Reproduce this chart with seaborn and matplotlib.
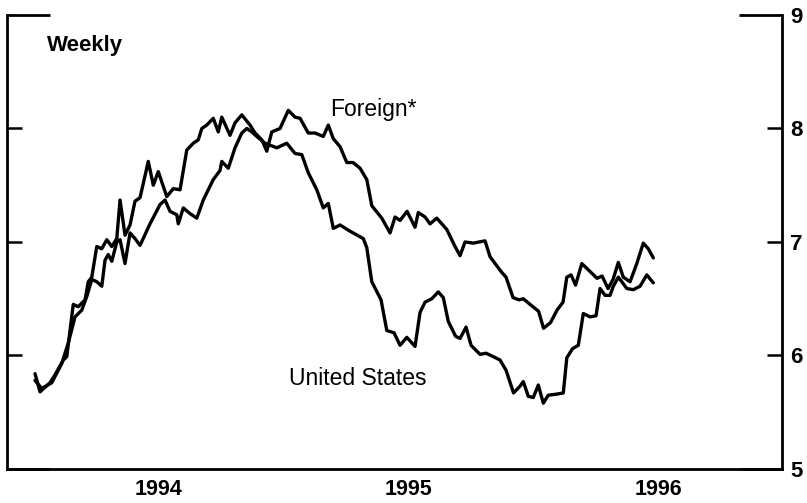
import matplotlib.pyplot as plt
import seaborn as sns
import pandas as pd

# weekly long-term rates (time in decimal years, percent)
foreign_t = [1994.008, 1994.028, 1994.068, 1994.088, 1994.121, 1994.135, 1994.161, 1994.181,
             1994.208, 1994.221, 1994.235, 1994.255, 1994.275, 1994.295, 1994.315, 1994.335,
             1994.348, 1994.368, 1994.388, 1994.408, 1994.428, 1994.461, 1994.481, 1994.501,
             1994.535, 1994.561, 1994.588, 1994.615, 1994.641, 1994.661, 1994.675, 1994.695,
             1994.721, 1994.741, 1994.755, 1994.788, 1994.808, 1994.835, 1994.868, 1994.888,
             1994.915, 1994.935, 1994.955, 1994.988, 1995.021, 1995.048, 1995.068, 1995.101,
             1995.128, 1995.161, 1995.181, 1995.201, 1995.228, 1995.255, 1995.280, 1995.308,
             1995.335, 1995.355, 1995.395, 1995.428, 1995.448, 1995.468, 1995.496, 1995.528,
             1995.541, 1995.568, 1995.588, 1995.615, 1995.655, 1995.688, 1995.708, 1995.728,
             1995.761, 1995.784, 1995.808, 1995.828, 1995.872, 1995.892, 1995.920, 1995.944,
             1995.961, 1995.988, 1996.022, 1996.042, 1996.070, 1996.096, 1996.120, 1996.135,
             1996.152, 1996.170, 1996.195, 1996.228, 1996.256, 1996.276, 1996.300, 1996.320,
             1996.341, 1996.361, 1996.388, 1996.415, 1996.441, 1996.461, 1996.481]
foreign_v = [5.84, 5.68, 5.76, 5.83, 5.96, 5.99, 6.45, 6.43,
             6.49, 6.65, 6.69, 6.96, 6.94, 7.02, 6.96, 7.03,
             7.37, 7.06, 7.15, 7.36, 7.39, 7.71, 7.50, 7.62,
             7.40, 7.47, 7.46, 7.81, 7.87, 7.90, 8.00, 8.03,
             8.09, 7.97, 8.10, 7.94, 8.05, 8.12, 8.03, 7.96,
             7.90, 7.80, 7.97, 8.00, 8.16, 8.10, 8.09, 7.96,
             7.96, 7.93, 8.03, 7.91, 7.84, 7.70, 7.70, 7.65,
             7.55, 7.32, 7.21, 7.08, 7.22, 7.19, 7.27, 7.13,
             7.26, 7.22, 7.16, 7.21, 7.11, 6.96, 6.88, 7.00,
             6.99, 7.00, 7.01, 6.87, 6.74, 6.69, 6.51, 6.49,
             6.50, 6.45, 6.39, 6.24, 6.29, 6.40, 6.47, 6.69,
             6.71, 6.62, 6.81, 6.74, 6.68, 6.70, 6.59, 6.67,
             6.82, 6.69, 6.65, 6.81, 6.99, 6.94, 6.86]

us_t = [1994.008, 1994.035, 1994.075, 1994.115, 1994.141, 1994.168, 1994.195, 1994.215,
        1994.235, 1994.255, 1994.275, 1994.288, 1994.301, 1994.315, 1994.335, 1994.348,
        1994.368, 1994.388, 1994.408, 1994.428, 1994.468, 1994.508, 1994.528, 1994.548,
        1994.575, 1994.581, 1994.601, 1994.628, 1994.655, 1994.681, 1994.721, 1994.748,
        1994.755, 1994.781, 1994.808, 1994.835, 1994.855, 1994.875, 1994.895, 1994.928,
        1994.975, 1995.015, 1995.048, 1995.075, 1995.101, 1995.135, 1995.161, 1995.181,
        1995.201, 1995.228, 1995.264, 1995.321, 1995.335, 1995.355, 1995.392, 1995.415,
        1995.444, 1995.468, 1995.495, 1995.528, 1995.548, 1995.568, 1995.595, 1995.621,
        1995.641, 1995.661, 1995.690, 1995.708, 1995.732, 1995.752, 1995.788, 1995.812,
        1995.841, 1995.868, 1995.892, 1995.922, 1995.948, 1995.961, 1995.981, 1996.001,
        1996.021, 1996.041, 1996.061, 1996.095, 1996.121, 1996.135, 1996.158, 1996.181,
        1996.201, 1996.228, 1996.252, 1996.268, 1996.288, 1996.308, 1996.321, 1996.341,
        1996.355, 1996.375, 1996.401, 1996.428, 1996.455, 1996.481]
us_v = [5.78, 5.71, 5.76, 5.93, 6.11, 6.34, 6.40, 6.52,
        6.67, 6.65, 6.61, 6.84, 6.89, 6.83, 7.00, 7.02,
        6.81, 7.08, 7.03, 6.97, 7.16, 7.33, 7.37, 7.27,
        7.24, 7.16, 7.30, 7.25, 7.21, 7.37, 7.55, 7.63,
        7.71, 7.65, 7.83, 7.96, 8.00, 7.97, 7.93, 7.87,
        7.83, 7.87, 7.78, 7.77, 7.61, 7.46, 7.30, 7.34,
        7.12, 7.15, 7.10, 7.03, 6.95, 6.65, 6.49, 6.22,
        6.20, 6.09, 6.16, 6.08, 6.38, 6.47, 6.50, 6.56,
        6.51, 6.30, 6.17, 6.15, 6.25, 6.09, 6.01, 6.02,
        5.99, 5.96, 5.87, 5.67, 5.73, 5.77, 5.64, 5.63,
        5.74, 5.58, 5.65, 5.66, 5.67, 5.98, 6.06, 6.09,
        6.37, 6.34, 6.35, 6.59, 6.53, 6.53, 6.61, 6.69,
        6.65, 6.59, 6.58, 6.61, 6.71, 6.64]

year_ticks = [1994, 1995, 1996]
year_labels = ['1994', '1995', '1996']

sns.set_style('white')
plt.rcParams['font.family'] = ['Liberation Sans', 'DejaVu Sans']
plt.rcParams['text.color'] = 'black'
plt.rcParams['xtick.color'] = 'black'
plt.rcParams['ytick.color'] = 'black'
plt.rcParams['axes.labelcolor'] = 'black'

df = pd.concat([
    pd.DataFrame({'t': foreign_t, 'rate': foreign_v, 'series': 'Foreign*'}),
    pd.DataFrame({'t': us_t, 'rate': us_v, 'series': 'United States'}),
])

fig = plt.figure(figsize=(8.07, 5.03), dpi=100)
ax = fig.add_axes([0.0087, 0.0676, 0.9604, 0.9026])

sns.lineplot(data=df, x='t', y='rate', units='series', estimator=None, sort=False,
             color='black', linewidth=2.4, ax=ax, legend=False)

ax.set_xlim(1993.896, 1996.996)
ax.set_ylim(5, 9)

ax.spines['top'].set_visible(False)
for s in ['left', 'right', 'bottom']:
    ax.spines[s].set_visible(True)
    ax.spines[s].set_color('black')
    ax.spines[s].set_linewidth(2.0)

# x: ticks at year boundaries, labels mid-year
ax.set_xticks(year_ticks)
ax.set_xticklabels([])
ax.set_xticks([y + 0.5 for y in year_ticks], minor=True)
ax.set_xticklabels(year_labels, minor=True, fontsize=15.5, fontweight='bold', color='black')
ax.tick_params(axis='x', which='major', direction='in', length=11, width=1.8, color='black')
ax.tick_params(axis='x', which='minor', length=0, pad=7)

# y: labels on the right, small inward ticks both sides, long stub at top
ax.set_yticks([6, 7, 8])
ax.set_yticks([5, 9], minor=True)
ax.yaxis.set_ticks_position('both')
ax.tick_params(axis='y', which='major', direction='in', length=11, width=1.8, color='black',
               left=True, right=True, labelleft=False, labelright=True,
               labelsize=16, pad=6, labelcolor='black')
ax.tick_params(axis='y', which='minor', direction='in', length=31, width=2.0, color='black',
               left=True, right=True, labelleft=False, labelright=True,
               labelsize=16, pad=6, labelcolor='black')
ax.set_yticklabels(['6', '7', '8'])
ax.set_yticklabels(['5', '9'], minor=True)
for lab in ax.get_yticklabels(which='both'):
    lab.set_fontweight('bold')

ax.set_xlabel('')
ax.set_ylabel('')

ax.text(1994.056, 8.73, 'Weekly', fontsize=16, fontweight='bold', color='black',
        ha='left', va='center')
ax.text(1995.188, 8.17, 'Foreign*', fontsize=16.5, color='black', ha='left', va='center')
ax.text(1995.024, 5.80, 'United States', fontsize=16.5, color='black', ha='left', va='center')

fig.savefig('out.png', dpi=100)
